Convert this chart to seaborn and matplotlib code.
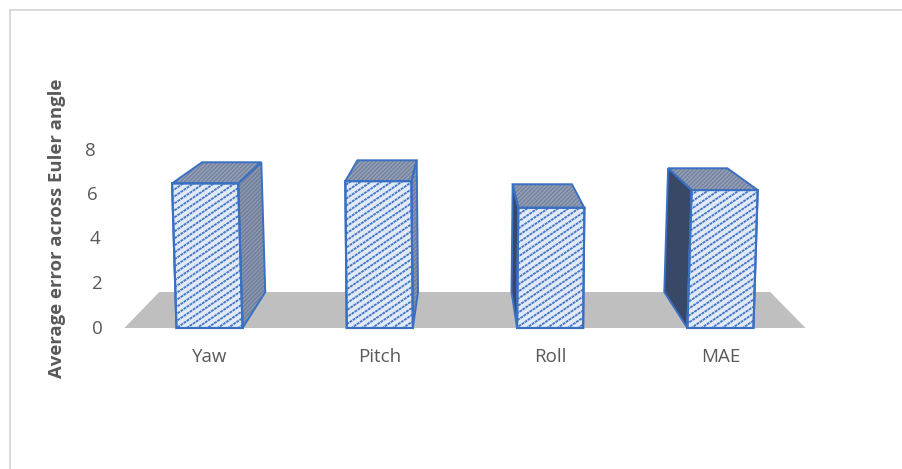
import matplotlib
matplotlib.use("Agg")
import numpy as np
import matplotlib.pyplot as plt
import seaborn as sns
from matplotlib.collections import LineCollection
from matplotlib.patches import Polygon
from matplotlib.transforms import Affine2D, IdentityTransform

categories = ["Yaw", "Pitch", "Roll", "MAE"]
values = [6.5, 6.6, 5.4, 6.2]
y_ticks = [0, 2, 4, 6, 8]
y_title = "Average error across Euler angle"

EDGE = "#3a70c2"
FRONT = "#e2e9f6"
STRIPE = "#3f74c6"
MID = "#8f98aa"
MID_H = "#6c7da0"
DARK = "#3d4860"
DARK_H = "#344a72"
TOP = "#98a0b1"
TOP_H = "#6f81a4"
TEXT = "#595959"
FLOOR = "#bfbfbf"
BORDER = "#d9d9d9"

sns.set_theme(style="white")
plt.rcParams["font.family"] = ["Open Sans", "DejaVu Sans"]
plt.rcParams["hatch.linewidth"] = 1.0

W, H = 903, 469
fig = plt.figure(figsize=(W / 100, H / 100), dpi=100)
L, T = 10, 10
ax = fig.add_axes([L / W, 0, (W - L) / W, (H - T) / H])

BAR_W = 0.388
PX_CAT, PX_ZERO_X = 170.3, 209.5
PX_UNIT, PX_ZERO_Y = 22.25, 328
SCALE, CX, VV = 0.897, 1.49, 15.7
LEAN = 0.00267


def back(x, v):
    return CX + (x - CX) * SCALE, VV + (v - VV) * SCALE


sns.barplot(x=categories, y=values, color=FRONT, width=BAR_W, saturation=1,
            edgecolor=EDGE, linewidth=1.5, ax=ax, zorder=3)
ax.set_xlim((L - PX_ZERO_X) / PX_CAT, (W - PX_ZERO_X) / PX_CAT)
ax.set_ylim((PX_ZERO_Y - H) / PX_UNIT, (PX_ZERO_Y - T) / PX_UNIT)

floor = [(-0.5, 0), (3.5, 0), back(3.5, 0), back(-0.5, 0)]
ax.add_patch(Polygon(floor, closed=True, fc=FLOOR, ec="none", zorder=1))


def face(pts, fc, hc):
    ax.add_patch(Polygon(pts, closed=True, fc=fc, ec=hc, hatch="////////", lw=0, zorder=2))
    ax.add_patch(Polygon(pts, closed=True, fc="none", ec=EDGE, lw=1.4, zorder=2.1))


# diagonal dotted stripes of the front faces, in pixels, clipped to each bar
SLOPE, PERIOD = 0.68, 7.0
offsets = np.arange(-700, 500, PERIOD)
segments = [[(0, c), (W, c + SLOPE * W)] for c in offsets]

for i, (bar, v) in enumerate(zip(ax.patches[:len(values)], values)):
    k = LEAN * (i - CX)
    bar.set_transform(Affine2D.from_values(1, 0, k, 1, 0, 0) + ax.transData)
    x0, x1 = i - BAR_W / 2, i + BAR_W / 2
    tl, tr = (x0 + k * v, v), (x1 + k * v, v)
    outline = Polygon([(x0, 0), (x1, 0), tr, tl], closed=True, fc="none",
                      ec=EDGE, lw=1.5, zorder=3.1)
    ax.add_patch(outline)
    stripes = LineCollection(segments, colors=STRIPE, linewidths=1.3,
                             linestyles=[(0, (1.6, 0.45))],
                             transform=IdentityTransform(), zorder=3.05)
    ax.add_collection(stripes, autolim=False)
    stripes.set_clip_path(outline)
    face([tl, tr, back(*tr), back(*tl)], TOP, TOP_H)
    if i < CX:
        face([(x1, 0), tr, back(*tr), back(x1, 0)], MID, MID_H)
    else:
        face([(x0, 0), tl, back(*tl), back(x0, 0)], DARK, DARK_H)

for s in ("right", "bottom"):
    ax.spines[s].set_visible(False)
for s in ("left", "top"):
    ax.spines[s].set_color(BORDER)
    ax.spines[s].set_linewidth(1.4)

ax.set_xlabel("")
ax.set_ylabel("")
ax.set_yticks(y_ticks)
ax.set_yticklabels([str(t) for t in y_ticks])
ax.tick_params(axis="y", length=0, pad=-67, labelsize=13.5, labelcolor=TEXT)
ax.tick_params(axis="x", length=0, pad=-87, labelsize=13.5, labelcolor=TEXT)
for lab, dx in zip(ax.get_yticklabels(), [0, -1, -3, -5, -7]):
    lab.set_transform(lab.get_transform() + Affine2D().translate(dx, 1.5))

fig.text(57 / W, 1 - 228 / H, y_title, rotation=90, ha="center", va="center",
         fontsize=13.3, fontweight="bold", color=TEXT)

fig.savefig("out.png", dpi=100)
